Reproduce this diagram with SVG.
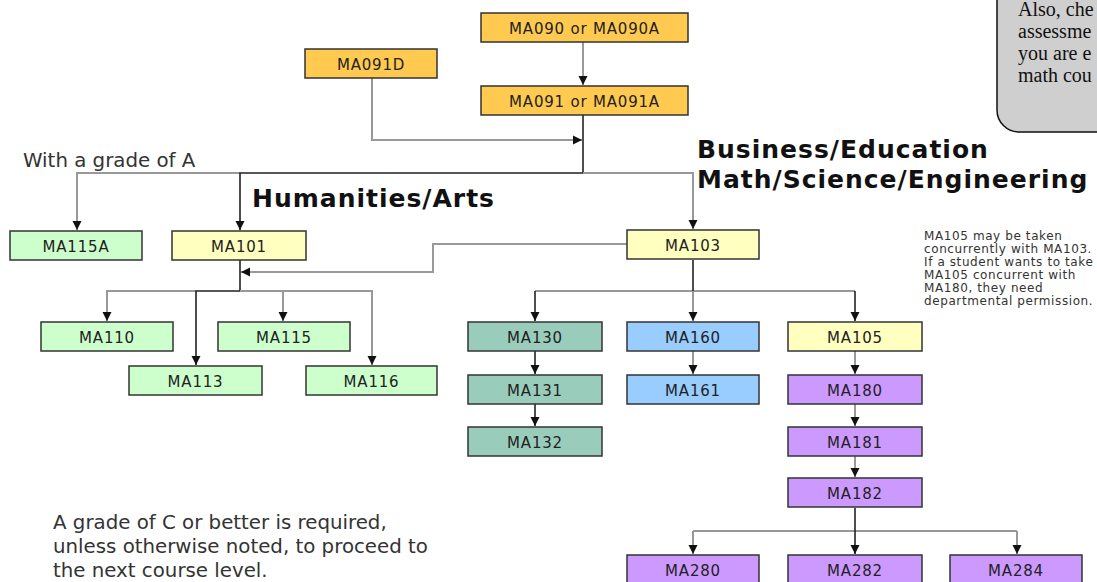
<svg xmlns="http://www.w3.org/2000/svg" width="1097" height="582" viewBox="0 0 1097 582">
<style>
.box{stroke:#333;stroke-width:1.5}
.or{fill:#FFCA4F}.gr{fill:#CCFFCC}.ye{fill:#FFFFC0}.te{fill:#99CCBB}.bl{fill:#99CCFF}.pu{fill:#CC99FF}
.lbl{font-family:"DejaVu Sans",Verdana,sans-serif;font-size:15px;letter-spacing:0.8px;fill:#222;text-anchor:middle}
.g{fill:none;stroke:#999;stroke-width:2}
.k{fill:none;stroke:#222;stroke-width:1.6}
.head{font-family:"DejaVu Sans",Verdana,sans-serif;font-weight:bold;font-size:25px;letter-spacing:1px;fill:#111}
.body{font-family:"DejaVu Sans",Verdana,sans-serif;font-size:19.8px;fill:#333}
.note{font-family:"DejaVu Sans",Verdana,sans-serif;font-size:12px;letter-spacing:0.6px;fill:#333}
.call{font-family:"Liberation Serif","Times New Roman",serif;font-size:20px;fill:#111}
</style>
<defs>
<marker id="ah" markerUnits="userSpaceOnUse" markerWidth="10" markerHeight="10" viewBox="0 0 10 10" refX="9" refY="5" orient="auto">
<path d="M0,0.5 L9,5 L0,9.5 Z" fill="#111"/>
</marker>
</defs>

<g id="callout">
<rect x="997" y="-30" width="160" height="162" rx="22" ry="22" fill="#CFCFCF" stroke="#111" stroke-width="1.5"/>
<text class="call" x="1018" y="16">Also, che</text>
<text class="call" x="1018" y="38">assessme</text>
<text class="call" x="1018" y="60">you are e</text>
<text class="call" x="1018" y="82">math cou</text>
</g>

<g id="connectors">
<path class="g" d="M583,42 V85" marker-end="url(#ah)"/>
<path class="g" d="M372,78 V140 H582" marker-end="url(#ah)"/>
<path class="k" d="M583,115 V173"/>
<path class="g" d="M240,173 H77 V230" marker-end="url(#ah)"/>
<path class="k" d="M583,173 H240 V230" marker-end="url(#ah)"/>
<path class="g" d="M583,173 H693 V229" marker-end="url(#ah)"/>
<path class="g" d="M627,244 H433 V272 H241" marker-end="url(#ah)"/>
<path class="k" d="M240,260 V291"/>
<path class="g" d="M196,291 H107 V321" marker-end="url(#ah)"/>
<path class="k" d="M240,291 H196 V365" marker-end="url(#ah)"/>
<path class="g" d="M240,291 H283 V321" marker-end="url(#ah)"/>
<path class="g" d="M283,291 H372 V365" marker-end="url(#ah)"/>
<path class="g" d="M535,291 H855"/>
<path class="k" d="M693,260 V291"/>
<path class="k" d="M535,291 V321" marker-end="url(#ah)"/>
<path class="g" d="M693,291 V321" marker-end="url(#ah)"/>
<path class="k" d="M855,291 V321" marker-end="url(#ah)"/>
<path class="k" d="M535,351 V374" marker-end="url(#ah)"/>
<path class="k" d="M535,404 V426" marker-end="url(#ah)"/>
<path class="g" d="M693,351 V374" marker-end="url(#ah)"/>
<path class="g" d="M855,351 V374" marker-end="url(#ah)"/>
<path class="g" d="M855,404 V426" marker-end="url(#ah)"/>
<path class="g" d="M855,456 V477" marker-end="url(#ah)"/>
<path class="g" d="M693,531 H1017"/>
<path class="k" d="M855,508 V554" marker-end="url(#ah)"/>
<path class="g" d="M693,531 V554" marker-end="url(#ah)"/>
<path class="g" d="M1017,531 V554" marker-end="url(#ah)"/>
</g>

<g id="n-ma090"><rect class="box or" x="481" y="13" width="207" height="29"/><text class="lbl" x="584.5" y="33.5">MA090 or MA090A</text></g>
<g id="n-ma091d"><rect class="box or" x="305" y="49" width="132" height="29"/><text class="lbl" x="371" y="69.5">MA091D</text></g>
<g id="n-ma091"><rect class="box or" x="481" y="86" width="207" height="29"/><text class="lbl" x="584.5" y="106.5">MA091 or MA091A</text></g>
<g id="n-ma115a"><rect class="box gr" x="10" y="231" width="132" height="29"/><text class="lbl" x="76" y="251.5">MA115A</text></g>
<g id="n-ma101"><rect class="box ye" x="172" y="231" width="134" height="29"/><text class="lbl" x="239" y="251.5">MA101</text></g>
<g id="n-ma103"><rect class="box ye" x="627" y="230" width="132" height="29"/><text class="lbl" x="693" y="250.5">MA103</text></g>
<g id="n-ma110"><rect class="box gr" x="41" y="322" width="132" height="29"/><text class="lbl" x="107" y="342.5">MA110</text></g>
<g id="n-ma115"><rect class="box gr" x="218" y="322" width="132" height="29"/><text class="lbl" x="284" y="342.5">MA115</text></g>
<g id="n-ma113"><rect class="box gr" x="129" y="366" width="133" height="29"/><text class="lbl" x="195.5" y="386.5">MA113</text></g>
<g id="n-ma116"><rect class="box gr" x="306" y="366" width="131" height="29"/><text class="lbl" x="371.5" y="386.5">MA116</text></g>
<g id="n-ma130"><rect class="box te" x="468" y="322" width="134" height="29"/><text class="lbl" x="535" y="342.5">MA130</text></g>
<g id="n-ma131"><rect class="box te" x="468" y="375" width="134" height="29"/><text class="lbl" x="535" y="395.5">MA131</text></g>
<g id="n-ma132"><rect class="box te" x="468" y="427" width="134" height="29"/><text class="lbl" x="535" y="447.5">MA132</text></g>
<g id="n-ma160"><rect class="box bl" x="627" y="322" width="132" height="29"/><text class="lbl" x="693" y="342.5">MA160</text></g>
<g id="n-ma161"><rect class="box bl" x="627" y="375" width="132" height="29"/><text class="lbl" x="693" y="395.5">MA161</text></g>
<g id="n-ma105"><rect class="box ye" x="788" y="322" width="134" height="29"/><text class="lbl" x="855" y="342.5">MA105</text></g>
<g id="n-ma180"><rect class="box pu" x="788" y="375" width="134" height="29"/><text class="lbl" x="855" y="395.5">MA180</text></g>
<g id="n-ma181"><rect class="box pu" x="788" y="427" width="134" height="29"/><text class="lbl" x="855" y="447.5">MA181</text></g>
<g id="n-ma182"><rect class="box pu" x="788" y="478" width="134" height="29"/><text class="lbl" x="855" y="498.5">MA182</text></g>
<g id="n-ma280"><rect class="box pu" x="627" y="555" width="132" height="30"/><text class="lbl" x="693" y="575.5">MA280</text></g>
<g id="n-ma282"><rect class="box pu" x="788" y="555" width="134" height="30"/><text class="lbl" x="855" y="575.5">MA282</text></g>
<g id="n-ma284"><rect class="box pu" x="950" y="555" width="132" height="30"/><text class="lbl" x="1016" y="575.5">MA284</text></g>

<g id="labels">
<text class="body" x="23" y="167">With a grade of A</text>
<text class="head" x="252" y="207">Humanities/Arts</text>
<text class="head" x="697" y="158">Business/Education</text>
<text class="head" x="697" y="188">Math/Science/Engineering</text>
<text class="note" x="924" y="240">MA105 may be taken</text>
<text class="note" x="924" y="253">concurrently with MA103.</text>
<text class="note" x="924" y="266">If a student wants to take</text>
<text class="note" x="924" y="279">MA105 concurrent with</text>
<text class="note" x="924" y="292">MA180, they need</text>
<text class="note" x="924" y="305">departmental permission.</text>
<text class="body" x="53" y="529">A grade of C or better is required,</text>
<text class="body" x="53" y="553">unless otherwise noted, to proceed to</text>
<text class="body" x="53" y="577">the next course level.</text>
</g>
</svg>
